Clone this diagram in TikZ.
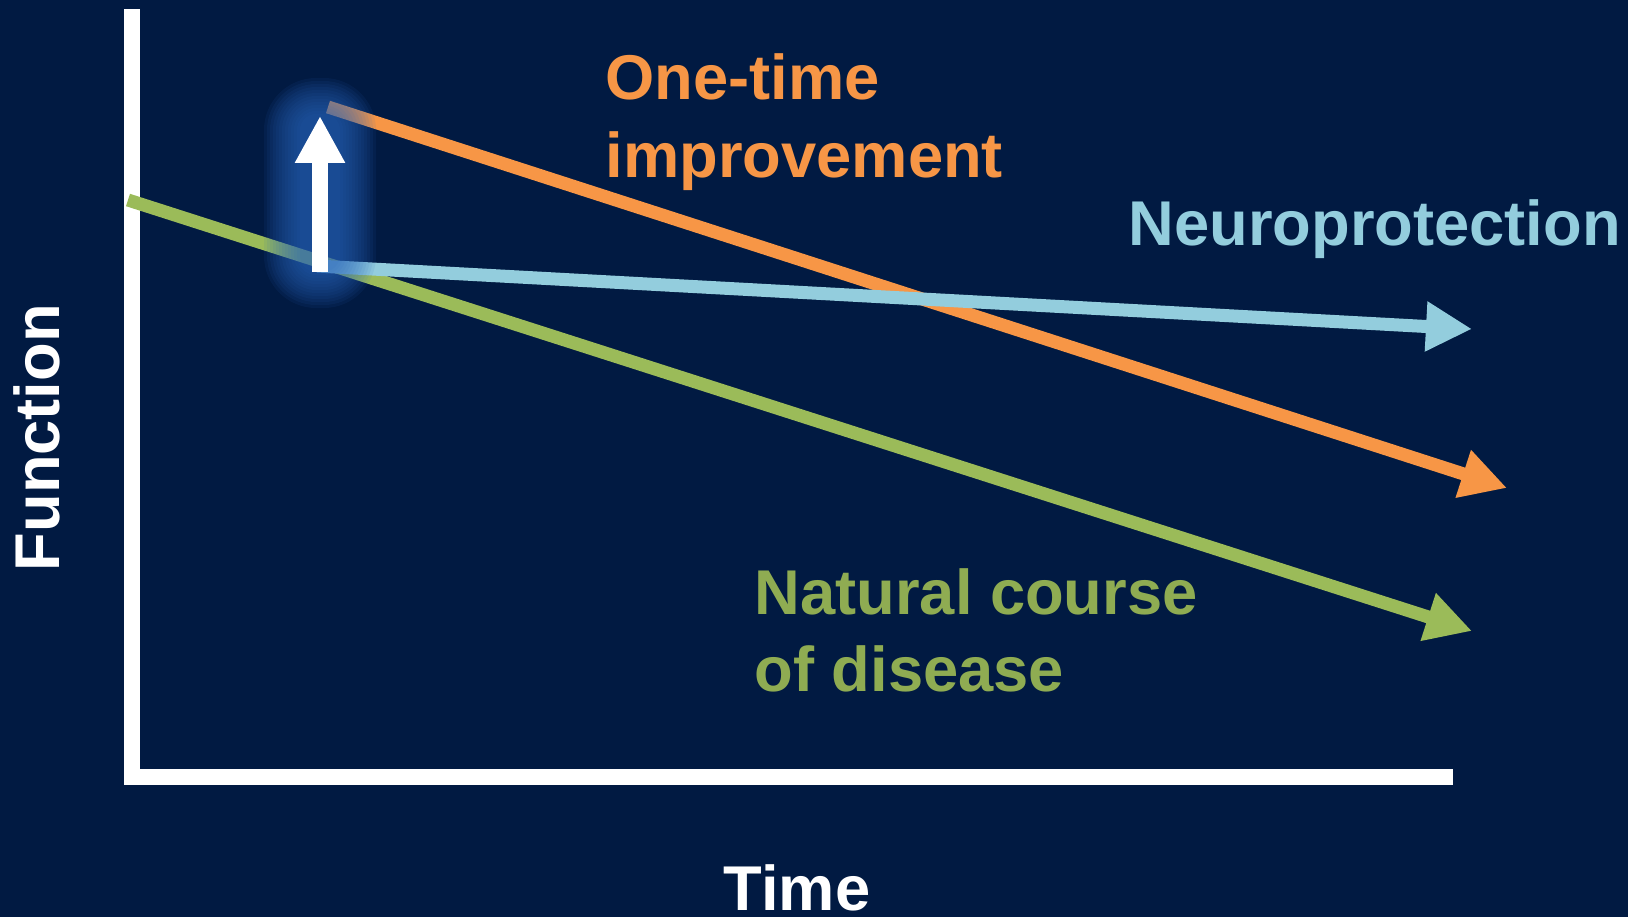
\documentclass[tikz,border=0pt]{standalone}
\usepackage{fontspec}
\setmainfont{Liberation Sans}
\usetikzlibrary{arrows.meta}
\definecolor{navy}{HTML}{011A42}
\definecolor{natgreen}{HTML}{9BBB59}
\definecolor{onceorange}{HTML}{F79646}
\definecolor{protblue}{HTML}{93CDDD}
\definecolor{glowblue}{HTML}{2A66BC}

\begin{document}
\begin{tikzpicture}[x=0.1mm,y=-0.1mm,
  trend/.style={line width=1.3mm,-{Triangle[width=4.7mm,length=4.6mm]}},
  curvetext/.style={font=\bfseries\fontsize{18}{22}\selectfont,inner sep=0pt,anchor=base west,align=left}]

  \useasboundingbox (0,0) rectangle (1628,917);
  \fill [navy] (0,0) rectangle (1628,917);

  % axes
  \coordinate (ytop) at (131.5,9);
  \coordinate (origin) at (131.5,777);
  \coordinate (xend) at (1453,777);
  \draw [white,line width=1.6mm,miter limit=4] (ytop) -- (origin) -- (xend);

  % the three courses
  \coordinate (natstart) at (128,200);
  \coordinate (natend) at (1472,631);
  \coordinate (oncestart) at (328,107);
  \coordinate (onceend) at (1507,488);
  \coordinate (protstart) at (317,266);
  \coordinate (protend) at (1472,329);
  \draw [trend,natgreen] (natstart) -- (natend);
  \draw [trend,onceorange] (oncestart) -- (onceend);
  \draw [trend,protblue] (protstart) -- (protend);

  % treatment jump, glow built from stacked soft boxes
  \foreach \e in {0,3,...,36}
    \fill [glowblue,opacity=0.09,rounded corners=(\e+17)*0.28pt] (300-\e,114-\e) rectangle (340+\e,272+\e);
  \coordinate (jumpfrom) at (320,272);
  \coordinate (jumpto) at (320,116);
  \draw [white,line width=1.55mm,-{Triangle[width=4.7mm,length=4.7mm]}] (jumpfrom) -- (jumpto);

  % two-line labels sit on the baseline of their last line
  \node [curvetext,onceorange] (once) at (605,177.3) {One-time\\improvement};
  \node [curvetext,protblue] (prot) at (1128,245.7) {Neuroprotection};
  \node [curvetext,natgreen!92!black] (nat) at (754,691.7) {Natural course\\of disease};

  \node [curvetext,white,rotate=90] (ylab) at (59,572) {Function};
  \node [curvetext,white] (xlab) at (723,910) {Time};

\end{tikzpicture}
\end{document}
